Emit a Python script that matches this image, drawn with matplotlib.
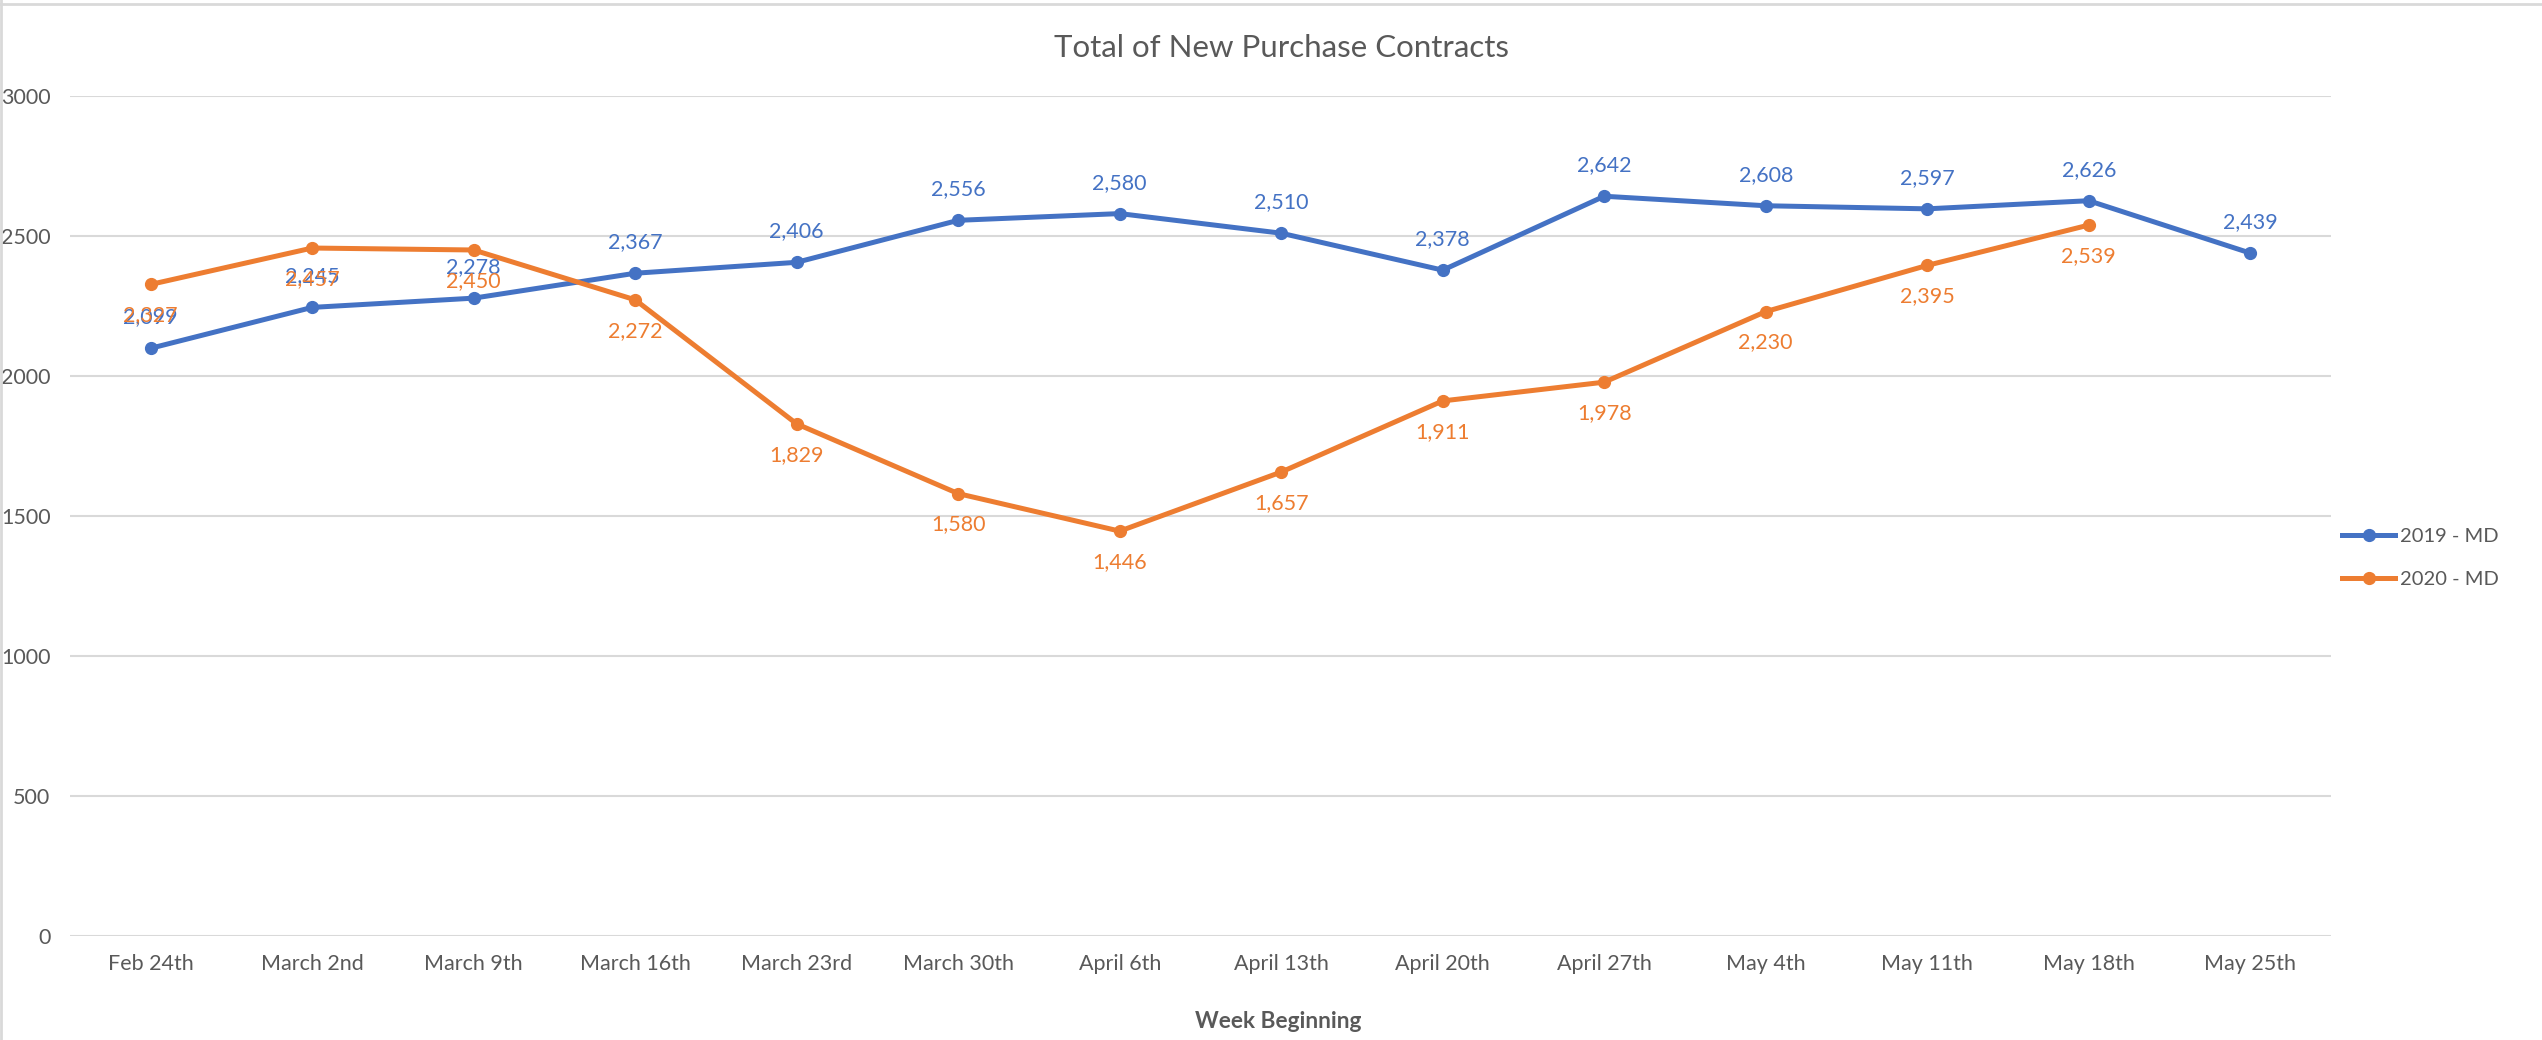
import numpy as np
import matplotlib.pyplot as plt
from matplotlib.lines import Line2D

weeks = ["Feb 24th", "March 2nd", "March 9th", "March 16th", "March 23rd", "March 30th",
         "April 6th", "April 13th", "April 20th", "April 27th", "May 4th", "May 11th",
         "May 18th", "May 25th"]
md_2019 = [2099, 2245, 2278, 2367, 2406, 2556, 2580, 2510, 2378, 2642, 2608, 2597, 2626, 2439]
md_2020 = [2327, 2457, 2450, 2272, 1829, 1580, 1446, 1657, 1911, 1978, 2230, 2395, 2539]

blue = '#4472C4'
orange = '#ED7D31'
grey_txt = '#595959'
grid_col = '#D9D9D9'

plt.rcParams['font.family'] = ['Lato', 'DejaVu Sans']

fig = plt.figure(figsize=(25.42, 10.4), dpi=100)
ax = fig.add_axes([0.0275, 0.100, 0.8895, 0.8077])

x19 = np.arange(len(md_2019))
x20 = np.arange(len(md_2020))
ax.plot(x19, md_2019, color=blue, lw=3.6, marker='o', ms=8.5, label='2019 - MD', zorder=3)
ax.plot(x20, md_2020, color=orange, lw=3.6, marker='o', ms=8.5, label='2020 - MD', zorder=3)

# data labels: 2019 above, 2020 below
for x, v in zip(x19, md_2019):
    ax.annotate(f"{v:,}", (x, v), xytext=(0, 15), textcoords='offset points',
                ha='center', va='bottom', color=blue, fontsize=15.5)
for x, v in zip(x20, md_2020):
    ax.annotate(f"{v:,}", (x, v), xytext=(0, -15), textcoords='offset points',
                ha='center', va='top', color=orange, fontsize=15.5)

ax.set_xlim(-0.5, len(weeks) - 0.5)
ax.set_ylim(0, 3000)
ax.set_yticks(np.arange(0, 3001, 500))
ax.set_xticks(np.arange(len(weeks)))
ax.set_xticklabels(weeks)
ax.tick_params(axis='both', length=0, colors=grey_txt, labelsize=15.5)
ax.tick_params(axis='x', pad=13)
ax.tick_params(axis='y', pad=14)
ax.grid(axis='y', color=grid_col, lw=1.5)
ax.set_axisbelow(True)
for s in ax.spines.values():
    s.set_visible(False)

fig.text(0.504, 0.954, "Total of New Purchase Contracts", ha='center', va='center',
         fontsize=22.5, color=grey_txt)
fig.text(0.503, 0.018, "Week Beginning", ha='center', va='center',
         fontsize=16.3, fontweight='bold', color=grey_txt)

ax.legend(loc='center left', bbox_to_anchor=(0.997, 0.45), frameon=False,
          fontsize=14.5, labelcolor=grey_txt, handlelength=2.6, handletextpad=0.25,
          labelspacing=1.3)

# chart border
fig.add_artist(Line2D([0, 1], [0.996, 0.996], transform=fig.transFigure, color=grid_col, lw=2))
fig.add_artist(Line2D([0.0005, 0.0005], [0, 1], transform=fig.transFigure, color=grid_col, lw=2))

fig.savefig('out.png', dpi=100)
